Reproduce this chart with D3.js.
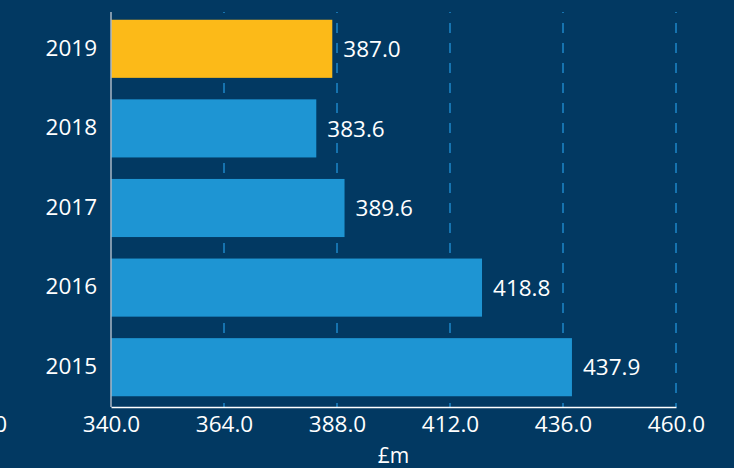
<!DOCTYPE html>
<html>
<head>
<meta charset="utf-8">
<script src="https://cdn.jsdelivr.net/npm/d3@7"></script>
<style>
  html, body { margin: 0; padding: 0; background: #023962; }
  svg { display: block; }
  text { font-family: "Open Sans", "Noto Sans", sans-serif; fill: #ffffff; }
</style>
</head>
<body>
<svg id="chart" width="734" height="468"></svg>
<script>
// Annual figures, £m
const years = ["2019", "2018", "2017", "2016", "2015"];
const values = [387.0, 383.6, 389.6, 418.8, 437.9];
const highlightYear = "2019";
const tickValues = [340, 364, 388, 412, 436, 460];
const axisTitle = "£m";

const W = 734, H = 468;
const margin = { left: 111, right: 58, top: 12, bottom: 61 };
const plotBottom = H - margin.bottom; // 407
const fontSize = 22.5;

const svg = d3.select("#chart");
svg.append("rect").attr("width", W).attr("height", H).attr("fill", "#023962");

const x = d3.scaleLinear().domain([340, 460]).range([margin.left, W - margin.right]);
const y = d3.scaleBand().domain(years).range([9, plotBottom]).paddingInner(0.27).paddingOuter(0.135);

// dashed vertical gridlines
svg.append("g").selectAll("line")
  .data(tickValues.slice(1))
  .join("line")
  .attr("x1", d => x(d)).attr("x2", d => x(d))
  .attr("y1", margin.top).attr("y2", plotBottom)
  .attr("stroke", "#1c82c3")
  .attr("stroke-width", 1.6)
  .attr("stroke-dasharray", "10,10")
  .attr("stroke-dashoffset", 9);

// bars
const data = years.map((yr, i) => ({ year: yr, value: values[i] }));
svg.append("g").selectAll("rect")
  .data(data)
  .join("rect")
  .attr("x", x(340))
  .attr("y", d => y(d.year))
  .attr("width", d => x(d.value) - x(340))
  .attr("height", y.bandwidth())
  .attr("fill", d => d.year === highlightYear ? "#fcba18" : "#1e95d3");

// value labels
svg.append("g").selectAll("text")
  .data(data)
  .join("text")
  .attr("x", d => x(d.value) + 11)
  .attr("y", d => y(d.year) + y.bandwidth() / 2)
  .attr("dy", "0.36em")
  .attr("font-size", fontSize)
  .text(d => d.value.toFixed(1));

// category axis
const yAxis = svg.append("g")
  .attr("transform", `translate(${margin.left},0)`)
  .call(d3.axisLeft(y).tickSize(0).tickPadding(14));
yAxis.select(".domain").remove();
yAxis.selectAll("text").attr("font-size", fontSize).attr("fill", "#ffffff")
  .attr("dy", "0.3em")
  .style("font-family", '"Open Sans", "Noto Sans", sans-serif');
svg.append("line")
  .attr("x1", margin.left).attr("x2", margin.left)
  .attr("y1", margin.top).attr("y2", plotBottom)
  .attr("stroke", "#aab7c6").attr("stroke-width", 1.5);

// value axis
const xAxis = svg.append("g")
  .attr("transform", `translate(0,${plotBottom})`)
  .call(d3.axisBottom(x).tickValues(tickValues).tickSize(0).tickPadding(9).tickFormat(d3.format(".1f")));
xAxis.select(".domain").attr("stroke", "#ffffff").attr("stroke-width", 1.6);
xAxis.selectAll("text").attr("font-size", fontSize).attr("fill", "#ffffff")
  .style("font-family", '"Open Sans", "Noto Sans", sans-serif');

// preceding tick label, running off the left edge
svg.append("text")
  .attr("x", 7).attr("y", plotBottom + 9)
  .attr("dy", "0.71em")
  .attr("text-anchor", "end")
  .attr("font-size", fontSize)
  .text(d3.format(".1f")(316));

// axis title
svg.append("text")
  .attr("x", (x.range()[0] + x.range()[1]) / 2)
  .attr("y", 463)
  .attr("text-anchor", "middle")
  .attr("font-size", 21)
  .text(axisTitle);
</script>
</body>
</html>
